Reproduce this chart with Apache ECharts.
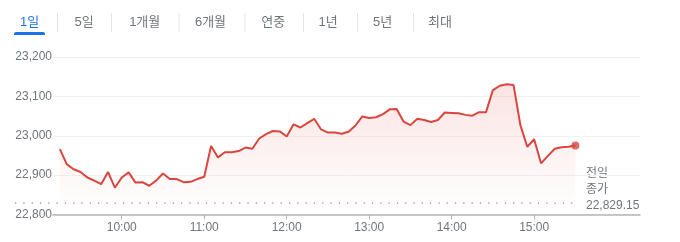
<!DOCTYPE html>
<html><head><meta charset="utf-8">
<script src="https://cdn.jsdelivr.net/npm/echarts@6/dist/echarts.min.js"></script>
<style>html,body{margin:0;padding:0;background:#fff}#c{width:680px;height:242px}</style>
</head><body><div id="c"></div>
<script>
const tabs = ['1일', '5일', '1개월', '6개월', '연중', '1년', '5년', '최대'];
const times = [
  '09:15','09:20','09:25','09:30','09:35','09:40','09:45','09:50','09:55',
  '10:00','10:05','10:10','10:15','10:20','10:25','10:30','10:35','10:40','10:45','10:50','10:55',
  '11:00','11:05','11:10','11:15','11:20','11:25','11:30','11:35','11:40','11:45','11:50','11:55',
  '12:00','12:05','12:10','12:15','12:20','12:25','12:30','12:35','12:40','12:45','12:50','12:55',
  '13:00','13:05','13:10','13:15','13:20','13:25','13:30','13:35','13:40','13:45','13:50','13:55',
  '14:00','14:05','14:10','14:15','14:20','14:25','14:30','14:35','14:40','14:45','14:50','14:55',
  '15:00','15:05','15:10','15:15','15:20','15:25','15:30'
];
const values = [
  22966,22928,22915,22908,22894,22886,22877,22908,22868,
  22894,22907,22881,22882,22873,22886,22904,22890,22890,22882,22883,22890,
  22896,22974,22945,22958,22958,22961,22970,22967,22993,23004,23012,23011,
  22998,23029,23021,23032,23043,23016,23008,23008,23005,23010,23026,23049,
  23045,23047,23055,23067,23068,23036,23027,23043,23040,23035,23040,23059,
  23058,23057,23053,23051,23060,23060,23116,23127,23131,23129,23027,22972,
  22991,22930,22949,22967,22971,22972,22975
];
const xTickLabels = ['10:00','11:00','12:00','13:00','14:00','15:00'];
const prevClose = 22829.15;
const yMin = 22800, yMax = 23200, yStep = 100;
const xStart = '09:10', xEnd = '16:17';

const toMin = s => { const p = s.split(':'); return (+p[0]) * 60 + (+p[1]); };
const fmtMin = m => { const h = Math.floor(m / 60), mm = Math.round(m % 60); return h + ':' + (mm < 10 ? '0' : '') + mm; };

const RED = '#d9463e';
const GRAY = '#70757a';
const FONT = '"Liberation Sans", Arial, "Noto Sans CJK KR", sans-serif';

const lineData = times.map((t, i) => [toMin(t), values[i]]);
const last = lineData[lineData.length - 1];

// tabs (UI chrome)
const tabCenters = [29.5, 84, 144.7, 210.5, 273.3, 328, 382.5, 440];
const sepX = [57.5, 111.5, 179, 245, 303.5, 357.5, 413.5];
const graphics = [];
tabs.forEach((t, i) => {
  graphics.push({ type: 'text', silent: true, style: {
    text: t, x: tabCenters[i], y: 22, align: 'center', verticalAlign: 'middle',
    fill: i === 0 ? '#1a73e8' : GRAY, font: '13px ' + FONT } });
});
sepX.forEach(x => graphics.push({ type: 'line', silent: true,
  shape: { x1: x, y1: 13, x2: x, y2: 32 }, style: { stroke: '#e3e3e3', lineWidth: 1 } }));
graphics.push({ type: 'rect', silent: true, shape: { x: 14, y: 32, width: 31, height: 3, r: [2, 2, 0, 0] },
  style: { fill: '#1a73e8' } });

const chart = echarts.init(document.getElementById('c'), null, { renderer: 'canvas' });
chart.setOption({
  animation: false,
  backgroundColor: '#fff',
  textStyle: { fontFamily: FONT },
  grid: [
    { left: 53, right: 40, top: 57, bottom: 27.5 },
    { left: 15, right: 103, top: 57, bottom: 27.5 }
  ],
  xAxis: [
    { type: 'value', gridIndex: 0, min: toMin(xStart), max: toMin(xEnd),
      axisLine: { show: true, lineStyle: { color: '#b5b5b5', width: 1.5 } },
      axisTick: { show: true, length: 5, lineStyle: { color: '#b5b5b5', width: 1 }, customValues: xTickLabels.map(toMin) },
      axisLabel: { color: GRAY, fontSize: 12, margin: 7, formatter: v => fmtMin(v), customValues: xTickLabels.map(toMin) },
      splitLine: { show: false } },
    { type: 'value', gridIndex: 1, min: 0, max: 1, show: false }
  ],
  yAxis: [
    { type: 'value', gridIndex: 0, min: yMin, max: yMax, interval: yStep,
      axisLine: { show: false }, axisTick: { show: false },
      axisLabel: { color: GRAY, fontSize: 12, margin: 1, formatter: v => v.toLocaleString('en-US') },
      splitLine: { show: true, lineStyle: { color: '#f1f1f1', width: 1 } } },
    { type: 'value', gridIndex: 1, min: yMin, max: yMax, show: false }
  ],
  series: [
    { type: 'line', xAxisIndex: 1, yAxisIndex: 1, data: [[0, prevClose], [1, prevClose]],
      showSymbol: false, silent: true,
      lineStyle: { color: '#a0a0a0', width: 1.3, type: [1.3, 7] } },
    { type: 'line', xAxisIndex: 0, yAxisIndex: 0, data: lineData, showSymbol: false,
      lineStyle: { color: RED, width: 2 },
      areaStyle: { color: new echarts.graphic.LinearGradient(0, 0, 0, 1, [
        { offset: 0, color: 'rgba(226,80,72,0.22)' },
        { offset: 1, color: 'rgba(226,80,72,0.0)' }]) } },
    { type: 'scatter', xAxisIndex: 0, yAxisIndex: 0, data: [last], symbolSize: 8,
      itemStyle: { color: RED } }
  ],
  graphic: graphics
});

const p = chart.convertToPixel({ xAxisIndex: 1, yAxisIndex: 1 }, [1, prevClose]);
graphics.push({ type: 'text', silent: true, style: {
  text: '전일\n종가\n' + prevClose.toLocaleString('en-US', { minimumFractionDigits: 2 }),
  x: p[0] + 9, y: p[1] + 10.5, align: 'left', verticalAlign: 'bottom',
  lineHeight: 16, fill: GRAY, font: '12px ' + FONT } });
chart.setOption({ graphic: graphics });
</script></body></html>
